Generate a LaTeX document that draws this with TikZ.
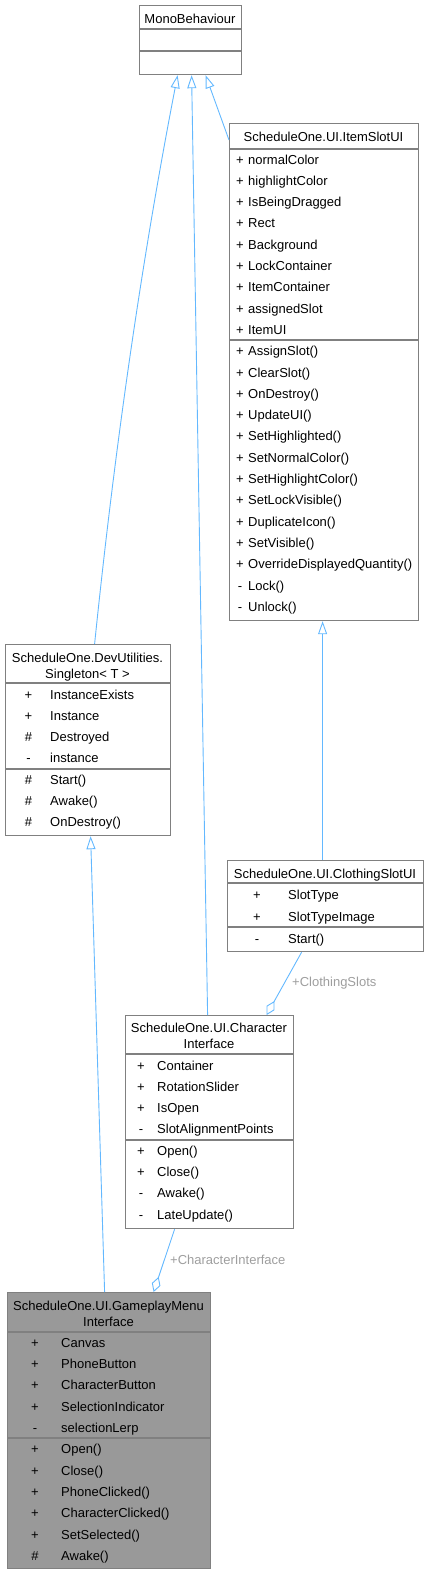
\documentclass[tikz,border=0pt]{standalone}
\usepackage{fontspec}
\setmainfont{Liberation Sans}
\usetikzlibrary{arrows.meta}
\definecolor{boxgray}{HTML}{808080}
\definecolor{edgeblue}{HTML}{63B8FF}
\definecolor{labelgray}{HTML}{9E9E9E}
\definecolor{fillgray}{HTML}{999999}
\tikzset{
  cls/.style={draw=boxgray, line width=1.2pt, inner sep=0pt, anchor=north west, fill=white},
  sep/.style={draw=boxgray, line width=1.2pt},
  txt/.style={inner sep=0pt, font=\fontsize{13}{15}\selectfont},
  sgn/.style={txt, anchor=base},
  mem/.style={txt, anchor=base west},
  hdr/.style={txt, anchor=base},
  inh/.style={draw=edgeblue, line width=0.9pt, -{Triangle[open, length=13pt, width=9pt]}},
  agg/.style={draw=edgeblue, line width=0.9pt, -{Diamond[open, length=16pt, width=9pt]}},
  lbl/.style={txt, anchor=base west, text=labelgray}
}
\begin{document}
\begin{tikzpicture}[x=1pt, y=-1pt]
\useasboundingbox (0,0) rectangle (428,1575);

% ---------- MonoBehaviour ----------
\node[cls, minimum width=102pt, minimum height=69pt] (mono) at (139,5) {};
\draw[sep] (mono.west |- 0,29) -- (mono.east |- 0,29);
\draw[sep] (mono.west |- 0,51) -- (mono.east |- 0,51);
\node[hdr] (monoT) at (190,23) {MonoBehaviour};

% ---------- ItemSlotUI ----------
\node[cls, minimum width=189pt, minimum height=497pt] (item) at (229,123) {};
\draw[sep] (item.west |- 0,149) -- (item.east |- 0,149);
\draw[sep] (item.west |- 0,340) -- (item.east |- 0,340);
\node[hdr] (itemT) at (323.5,141.5) {ScheduleOne.UI.ItemSlotUI};
\foreach \s/\m [count=\i from 0] in {
  +/normalColor, +/highlightColor, +/IsBeingDragged, +/Rect, +/Background,
  +/LockContainer, +/ItemContainer, +/assignedSlot, +/ItemUI,
  +/AssignSlot(), +/ClearSlot(), +/OnDestroy(), +/UpdateUI(), +/SetHighlighted(),
  +/SetNormalColor(), +/SetHighlightColor(), +/SetLockVisible(), +/DuplicateIcon(),
  +/SetVisible(), +/OverrideDisplayedQuantity(), -/Lock(), -/Unlock()} {
  \node[sgn] (itemS\i) at (240, 164+21.3*\i) {\s};
  \node[mem] (itemM\i) at (248, 164+21.3*\i) {\m};
}

% ---------- Singleton ----------
\node[cls, minimum width=165pt, minimum height=191pt] (single) at (5,644) {};
\draw[sep] (single.west |- 0,683) -- (single.east |- 0,683);
\draw[sep] (single.west |- 0,769) -- (single.east |- 0,769);
\node[hdr] (singleT1) at (87.5,662) {ScheduleOne.DevUtilities.};
\node[hdr] (singleT2) at (87.5,678) {Singleton< T >};
\foreach \s/\m [count=\i from 0] in {
  +/InstanceExists, +/Instance, \#/Destroyed, -/instance,
  \#/Start(), \#/Awake(), \#/OnDestroy()} {
  \node[sgn] (singleS\i) at (28.5, 699+21.3*\i) {\s};
  \node[mem] (singleM\i) at (50, 699+21.3*\i) {\m};
}

% ---------- ClothingSlotUI ----------
\node[cls, minimum width=196pt, minimum height=91pt] (cloth) at (227,860) {};
\draw[sep] (cloth.west |- 0,883) -- (cloth.east |- 0,883);
\draw[sep] (cloth.west |- 0,927) -- (cloth.east |- 0,927);
\node[hdr] (clothT) at (325,878) {ScheduleOne.UI.ClothingSlotUI};
\foreach \s/\m [count=\i from 0] in {+/SlotType, +/SlotTypeImage, -/Start()} {
  \node[sgn] (clothS\i) at (257, 899+22*\i) {\s};
  \node[mem] (clothM\i) at (288, 899+22*\i) {\m};
}

% ---------- CharacterInterface ----------
\node[cls, minimum width=168pt, minimum height=213pt] (charI) at (125,1015) {};
\draw[sep] (charI.west |- 0,1054) -- (charI.east |- 0,1054);
\draw[sep] (charI.west |- 0,1140) -- (charI.east |- 0,1140);
\node[hdr] (charT1) at (209,1032) {ScheduleOne.UI.Character};
\node[hdr] (charT2) at (209,1048) {Interface};
\foreach \s/\m [count=\i from 0] in {
  +/Container, +/RotationSlider, +/IsOpen, -/SlotAlignmentPoints,
  +/Open(), +/Close(), -/Awake(), -/LateUpdate()} {
  \node[sgn] (charS\i) at (141, 1070+21.3*\i) {\s};
  \node[mem] (charM\i) at (157, 1070+21.3*\i) {\m};
}

% ---------- GameplayMenuInterface ----------
\node[cls, fill=fillgray, minimum width=203pt, minimum height=276pt] (game) at (7,1292) {};
\draw[sep] (game.west |- 0,1332) -- (game.east |- 0,1332);
\draw[sep] (game.west |- 0,1438) -- (game.east |- 0,1438);
\node[hdr] (gameT1) at (108.5,1310.7) {ScheduleOne.UI.GameplayMenu};
\node[hdr] (gameT2) at (108.5,1326.7) {Interface};
\foreach \s/\m [count=\i from 0] in {
  +/Canvas, +/PhoneButton, +/CharacterButton, +/SelectionIndicator, -/selectionLerp,
  +/Open(), +/Close(), +/PhoneClicked(), +/CharacterClicked(), +/SetSelected(), \#/Awake()} {
  \node[sgn] (gameS\i) at (35, 1347+21.35*\i) {\s};
  \node[mem] (gameM\i) at (61, 1347+21.35*\i) {\m};
}

% ---------- connectors ----------
\draw[inh] ([xshift=6.5pt]single.north) .. controls (114,454) and (141,264) .. ([xshift=-13pt]mono.south);
\draw[inh] ([xshift=-2pt]charI.north) -- ([xshift=1pt]mono.south);
\draw[inh] ([yshift=-17pt]item.north west) -- ([xshift=15pt]mono.south);
\draw[inh] ([xshift=-3pt]cloth.north) -- ([xshift=-1.5pt]item.south);
\draw[inh] ([xshift=-4.5pt]game.north) -- ([xshift=2.5pt]single.south);
\draw[agg] ([xshift=-24pt]cloth.south) -- ([xshift=57pt]charI.north);
\draw[agg] ([xshift=-35pt]charI.south) -- ([xshift=44.5pt]game.north);

\node[lbl] (lblCloth) at (292,986.7) {+ClothingSlots};
\node[lbl] (lblChar) at (170,1264) {+CharacterInterface};
\end{tikzpicture}
\end{document}
